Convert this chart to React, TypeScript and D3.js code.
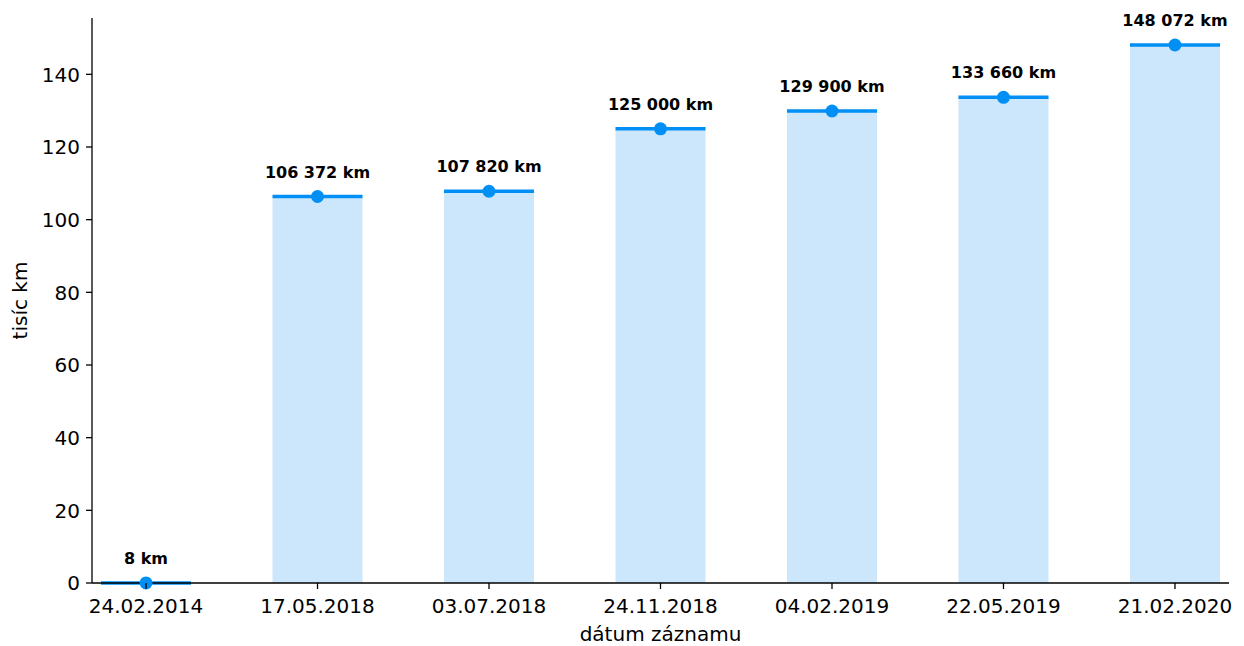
import React from "react";
import * as d3 from "d3";

const dates = ["24.02.2014", "17.05.2018", "03.07.2018", "24.11.2018", "04.02.2019", "22.05.2019", "21.02.2020"];
const kmValues = [8, 106372, 107820, 125000, 129900, 133660, 148072];
const labels = ["8 km", "106 372 km", "107 820 km", "125 000 km", "129 900 km", "133 660 km", "148 072 km"];
const yTicks = [0, 20, 40, 60, 80, 100, 120, 140];

const W = 1244, H = 646;
const left = 92, right = 1229, top = 18, bottom = 583;

export default function App() {
  const x = d3.scaleLinear().domain([-0.315, dates.length - 1 + 0.315]).range([left, right]);
  const y = d3.scaleLinear().domain([0, 155.5]).range([bottom, top]);
  const step = x(1) - x(0);
  const bw = step * 0.525;
  const font = "DejaVu Sans, sans-serif";
  return (
    <svg width={W} height={H} style={{ position: "absolute", left: 0, top: 0, background: "#fff" }}>
      {kmValues.map((v, i) => {
        const cx = x(i);
        const vy = y(v / 1000);
        return (
          <g key={i}>
            <rect x={cx - bw / 2} y={vy} width={bw} height={bottom - vy} fill="#cce7fb" />
            <line x1={cx - bw / 2} x2={cx + bw / 2} y1={vy} y2={vy} stroke="#008ff5" strokeWidth={3.5} />
          </g>
        );
      })}
      <line x1={left} x2={left} y1={top} y2={bottom} stroke="#000" strokeWidth={1.3} />
      <line x1={left} x2={right} y1={bottom} y2={bottom} stroke="#000" strokeWidth={1.3} />
      {kmValues.map((v, i) => {
        const cx = x(i);
        const vy = y(v / 1000);
        return (
          <g key={"m" + i}>
            <circle cx={cx} cy={vy} r={6.5} fill="#008ff5" />
            <text x={cx} y={vy - 19} textAnchor="middle" fontFamily={font} fontWeight="bold" fontSize={16}>{labels[i]}</text>
          </g>
        );
      })}
      {yTicks.map((t) => (
        <g key={t}>
          <line x1={left - 6} x2={left} y1={y(t)} y2={y(t)} stroke="#000" strokeWidth={1.3} />
          <text x={left - 12} y={y(t)} dy="0.36em" textAnchor="end" fontFamily={font} fontSize={20}>{t}</text>
        </g>
      ))}
      {dates.map((d, i) => (
        <g key={d}>
          <line x1={x(i)} x2={x(i)} y1={bottom} y2={bottom + 6} stroke="#000" strokeWidth={1.3} />
          <text x={x(i)} y={bottom + 30} textAnchor="middle" fontFamily={font} fontSize={20}>{d}</text>
        </g>
      ))}
      <text x={(left + right) / 2} y={641} textAnchor="middle" fontFamily={font} fontSize={20}>dátum záznamu</text>
      <text transform={`translate(27,${(top + bottom) / 2}) rotate(-90)`} textAnchor="middle" fontFamily={font} fontSize={20}>tisíc km</text>
    </svg>
  );
}
